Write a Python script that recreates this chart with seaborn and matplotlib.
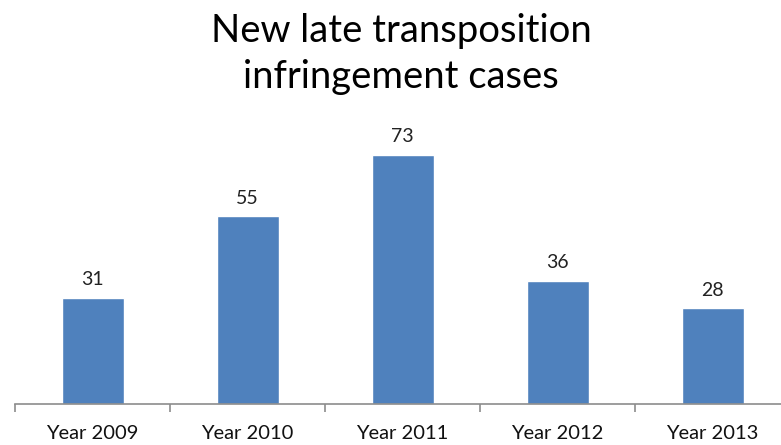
import matplotlib
matplotlib.use("Agg")
import matplotlib.pyplot as plt
import seaborn as sns
import pandas as pd
import numpy as np

years = ["Year 2009", "Year 2010", "Year 2011", "Year 2012", "Year 2013"]
cases = [31, 55, 73, 36, 28]

sns.set_theme(style="white")
plt.rcParams["font.family"] = ["Lato", "DejaVu Sans"]

W, H = 781, 445
fig = plt.figure(figsize=(W / 100, H / 100), dpi=100)
# axes spans five categories of 155 px starting at x=15; baseline at y=404
left, base = 15, 404
ax = fig.add_axes([left / W, (H - base) / H, 5 * 155 / W, 273 / H])

df = pd.DataFrame({"year": years, "cases": cases})
sns.barplot(data=df, x="year", y="cases", color="#4F81BD", saturation=1,
            width=0.4, ax=ax)

ax.set_xlim(-0.5, len(years) - 0.5)
ax.set_ylim(0, 80)
for bar, v in zip(ax.patches, cases):
    ax.annotate(f"{v}", (bar.get_x() + bar.get_width() / 2, v),
                xytext=(0, 7), textcoords="offset points",
                ha="center", va="bottom", fontsize=14, color="#222222")

for s in ["top", "right", "left"]:
    ax.spines[s].set_visible(False)
ax.spines["bottom"].set_color("#8c8c8c")
ax.spines["bottom"].set_linewidth(1.2)
ax.set_yticks([])
ax.set_xlabel("")
ax.set_ylabel("")
ax.set_xticks(np.arange(len(years)))
ax.set_xticklabels(years, fontsize=14.5, color="#111111")
ax.tick_params(axis="x", which="major", length=0, pad=15)
ax.set_xticks(np.arange(len(years) + 1) - 0.5, minor=True)
ax.tick_params(axis="x", which="minor", length=6, width=1.2, color="#8c8c8c",
               bottom=True)

fig.text(401 / W, 1 - 54 / H, "New late transposition\ninfringement cases",
         ha="center", va="center", fontsize=27.5, color="#000000",
         linespacing=1.35)

fig.savefig("out.png", dpi=100)
